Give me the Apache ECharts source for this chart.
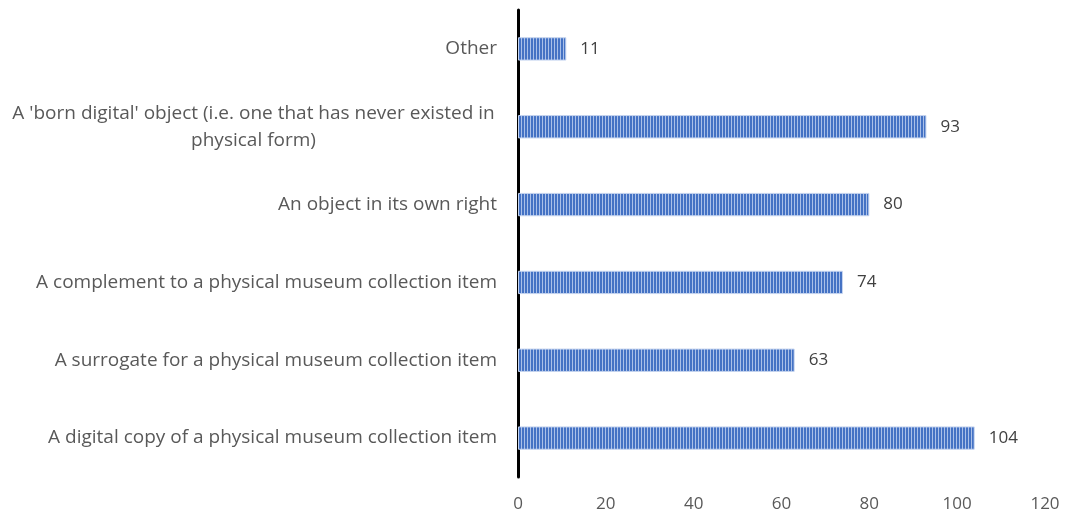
<!DOCTYPE html>
<html><head><meta charset="utf-8">
<script src="https://cdn.jsdelivr.net/npm/echarts@6/dist/echarts.min.js"></script>
<style>html,body{margin:0;padding:0;background:#fff}#c{width:1071px;height:516px}</style>
</head><body><div id="c"></div>
<script>
const categories = [
  'A digital copy of a physical museum collection item',
  'A surrogate for a physical museum collection item',
  'A complement to a physical museum collection item',
  'An object in its own right',
  "A 'born digital' object (i.e. one that has never existed in physical form)",
  'Other'
];
const values = [104, 63, 74, 80, 93, 11];
const xTicks = [0, 20, 40, 60, 80, 100, 120];

const pc = document.createElement('canvas');
pc.width = 3; pc.height = 4;
const g = pc.getContext('2d');
g.fillStyle = '#4472c4'; g.fillRect(0,0,3,4);
g.fillStyle = '#aac0e8'; g.fillRect(2,0,1,4);

const chart = echarts.init(document.getElementById('c'));
const FONT = 'Open Sans';
chart.setOption({
  animation: false,
  grid: {left: 518, right: 26, top: 10, bottom: 39, containLabel: false},
  xAxis: {
    type: 'value', min: xTicks[0], max: xTicks[xTicks.length-1], interval: 20,
    axisLine: {show: false}, axisTick: {show: false}, splitLine: {show: false},
    axisLabel: {color: '#595959', fontSize: 17, fontFamily: FONT, margin: 19}
  },
  yAxis: {
    type: 'category', data: categories,
    axisLine: {show: true, lineStyle: {color: '#000', width: 3}},
    axisTick: {show: false},
    axisLabel: {
      color: '#595959', fontSize: 19, fontFamily: FONT, margin: 21,
      formatter: function (v) {
        if (v.length > 60) {
          return '{c|A \'born digital\' object (i.e. one that has never existed in}\n{c|physical form)}';
        }
        return v;
      },
      rich: {c: {width: 487, align: 'center', fontSize: 19, fontFamily: FONT, color: '#595959', lineHeight: 27}}
    }
  },
  series: [{
    type: 'bar', data: values, barWidth: '30%',
    itemStyle: {color: {image: pc, repeat: 'repeat'}, borderColor: '#c5d4ef', borderWidth: 1},
    label: {show: true, position: 'right', distance: 14, color: '#404040', fontSize: 17, fontFamily: FONT}
  }]
});
</script></body></html>
